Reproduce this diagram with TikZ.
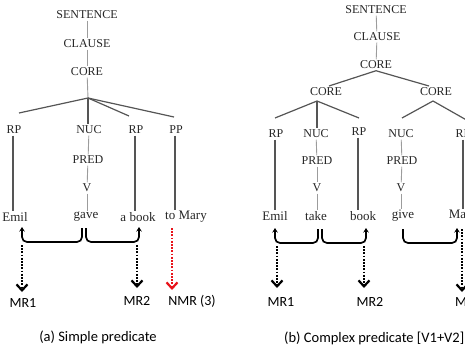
\documentclass[tikz,border=0pt]{standalone}
\usepackage{fontspec}
\setmainfont{Liberation Serif}
\newfontfamily\labfont{Carlito}
\usetikzlibrary{arrows.meta,calc}
\definecolor{ink}{HTML}{262626}
\definecolor{branch}{HTML}{555555}
\definecolor{faint}{HTML}{9C9C9C}
\definecolor{nmrred}{HTML}{E8141B}

\begin{document}
\begin{tikzpicture}[x=1pt,y=-1pt,
  lab/.style={text=ink,font=\fontsize{12}{12}\selectfont,inner sep=1.5pt},
  word/.style={text=ink,font=\fontsize{13}{13}\selectfont,inner sep=1.5pt},
  mr/.style={font=\labfont\fontsize{14}{14}\selectfont,inner sep=0pt},
  captext/.style={font=\labfont\fontsize{14.5}{14.5}\selectfont,inner sep=0pt},
  link/.style={draw=faint,line width=0.9pt},
  edge/.style={draw=branch,line width=1.2pt},
  brk/.style={draw=black,line width=1.7pt,rounded corners=5pt,
    -{Stealth[length=4.5pt,width=5.5pt]}},
  dotarrow/.style={line width=2.8pt,dash pattern=on 1.8pt off 1.4pt,
    -{Straight Barb[length=6pt,width=11pt,line width=2.2pt]}},
]
\useasboundingbox (0,0) rectangle (465,350);
\clip (0,0) rectangle (465,350);

% ---------- (a) simple predicate ----------
\node[lab] (sA)   at (87,15)  {SENTENCE};
\node[lab] (clA)  at (87,44)  {CLAUSE};
\node[lab] (coA)  at (87,72)  {CORE};
\coordinate (brA) at (88,98);
\node[lab] (rpA1) at (14,130) {RP};
\node[lab] (nucA) at (89,130) {NUC};
\node[lab] (rpA2) at (136,130) {RP};
\node[lab] (ppA)  at (176,130) {PP};
\node[lab] (predA) at (88,160) {PRED};
\node[lab] (vA)   at (87,188) {V};
\node[word] (wA1) at (15,217) {Emil};
\node[word] (wA2) at (86,217) {gave};
\node[word] (wA3) at (138,217) {a book};
\node[word] (wA4) at (186,217) {to Mary};

\draw[link] (sA) -- (clA);
\draw[link] (clA) -- (coA);
\draw[link] (coA) -- (brA);
\coordinate (eA1) at (19,113);
\coordinate (eA3) at (129,116);
\coordinate (eA4) at (174,117);
\draw[edge] (brA) -- (eA1);
\draw[edge] (brA) -- (brA |- nucA.north);
\draw[edge] (brA) -- (eA3);
\draw[edge] (brA) -- (eA4);
\draw[edge] ([xshift=-1pt]rpA1.south) -- ([xshift=-1pt]rpA1.south |- wA1.north);
\draw[edge] ([xshift=-1pt]rpA2.south) -- ([xshift=-1pt]rpA2.south |- wA3.north);
\draw[edge] ([xshift=-1pt]ppA.south) -- ([xshift=-1pt]ppA.south |- wA4.north);
\draw[link] (nucA) -- (predA);
\draw[link] (predA) -- (vA);
\draw[link] (vA) -- (vA |- wA2.north);

% brackets linking the verb with its arguments
\coordinate (gA1) at (82,228);  \coordinate (gA2) at (86,228);
\coordinate (hA1) at (22,242);  \coordinate (hA2) at (139,242);
\draw[brk] (gA1) |- (hA1) -- (22,227);
\draw[brk] (gA2) |- (hA2) -- (139,227);

% macroroles
\node[mr] (mrA1) at (23,303) {MR1};
\node[mr] (mrA2) at (137,301) {MR2};
\node[mr] (nmrA) at (192,301) {NMR (3)};
\coordinate (dA1) at (22,245);  \coordinate (tA1) at (22,292);
\coordinate (dA2) at (137,245); \coordinate (tA2) at (137,288);
\coordinate (dA3) at (172,228); \coordinate (tA3) at (172,290);
\draw[dotarrow] (dA1) -- (tA1);
\draw[dotarrow] (dA2) -- (tA2);
\draw[dotarrow,nmrred] (dA3) -- (tA3);

\node[captext] (capA) at (98,337) {(a) Simple predicate};

% ---------- (b) complex predicate ----------
\node[lab] (sB)   at (376,10) {SENTENCE};
\node[lab] (clB)  at (377,37) {CLAUSE};
\node[lab] (coB)  at (376,65) {CORE};
\node[lab] (coBL) at (326,92) {CORE};
\node[lab] (coBR) at (436,92) {CORE};
\draw[link] (sB) -- (clB);
\draw[link] (clB) -- (coB);
\coordinate (eBL) at (329,86);
\coordinate (eBR) at (429,86);
\draw[edge] (coB.south) -- (eBL);
\draw[edge] (coB.south) -- (eBR);

\coordinate (brBL) at (317,101);
\coordinate (brBR) at (433,101);
\node[lab] (rpB1)  at (276,134) {RP};
\node[lab] (nucB1) at (316,134) {NUC};
\node[lab] (rpB2)  at (359,132) {RP};
\node[lab] (nucB2) at (401,134) {NUC};
\node[lab] (rpB3)  at (463,134) {RP};
\coordinate (eB1) at (275,118);
\coordinate (eB3) at (359,118);
\coordinate (eB4) at (402,118);
\coordinate (eB5) at (470,122);
\draw[edge] (brBL) -- (eB1);
\draw[edge] (brBL) -- (brBL |- nucB1.north);
\draw[edge] (brBL) -- (eB3);
\draw[edge] (brBR) -- (eB4);
\draw[edge] (brBR) -- (eB5);

\node[lab] (predB1) at (317,161) {PRED};
\node[lab] (predB2) at (402,161) {PRED};
\node[lab] (vB1)    at (317,188) {V};
\node[lab] (vB2)    at (401,188) {V};
\node[word] (wB1) at (275,216) {Emil};
\node[word] (wB2) at (316,216) {take};
\node[word] (wB3) at (363,216) {book};
\node[word] (wB4) at (403,216) {give};
\node[word] (wB5) at (463,216) {Mary};

\draw[link] (nucB1) -- (predB1);
\draw[link] (predB1) -- (vB1);
\draw[link] (vB1) -- (vB1 |- wB2.north);
\draw[link] (nucB2) -- (predB2);
\draw[link] (predB2) -- (vB2);
\draw[link] (vB2) -- (vB2 |- wB4.north);
\draw[edge] ([xshift=-1pt]rpB1.south) -- ([xshift=-1pt]rpB1.south |- wB1.north);
\draw[edge] ([xshift=-1pt]rpB2.south) -- ([xshift=-1pt]rpB2.south |- wB3.north);
\draw[edge] (rpB3.south) -- (rpB3.south |- wB5.north);

\coordinate (gB1) at (318,229); \coordinate (hB1) at (275,243);
\coordinate (gB2) at (322,229); \coordinate (hB2) at (366,243);
\coordinate (gB3) at (403,229); \coordinate (hB3) at (457,243);
\draw[brk] (gB1) |- (hB1) -- (275,228);
\draw[brk] (gB2) |- (hB2) -- (366,228);
\draw[brk] (gB3) |- (hB3) -- (457,228);

\node[mr] (mrB1) at (281,302) {MR1};
\node[mr] (mrB2) at (370,302) {MR2};
\node[mr,anchor=west] (mrB3) at (455,302) {MR3};
\coordinate (dB1) at (277,246); \coordinate (tB1) at (277,288);
\coordinate (dB2) at (364,246); \coordinate (tB2) at (364,288);
\coordinate (dB3) at (462,229); \coordinate (tB3) at (462,292);
\draw[dotarrow] (dB1) -- (tB1);
\draw[dotarrow] (dB2) -- (tB2);
\draw[dotarrow] (dB3) -- (tB3);

\node[captext,anchor=west] (capB) at (284,338) {(b) Complex predicate [V1+V2]};
\end{tikzpicture}
\end{document}
